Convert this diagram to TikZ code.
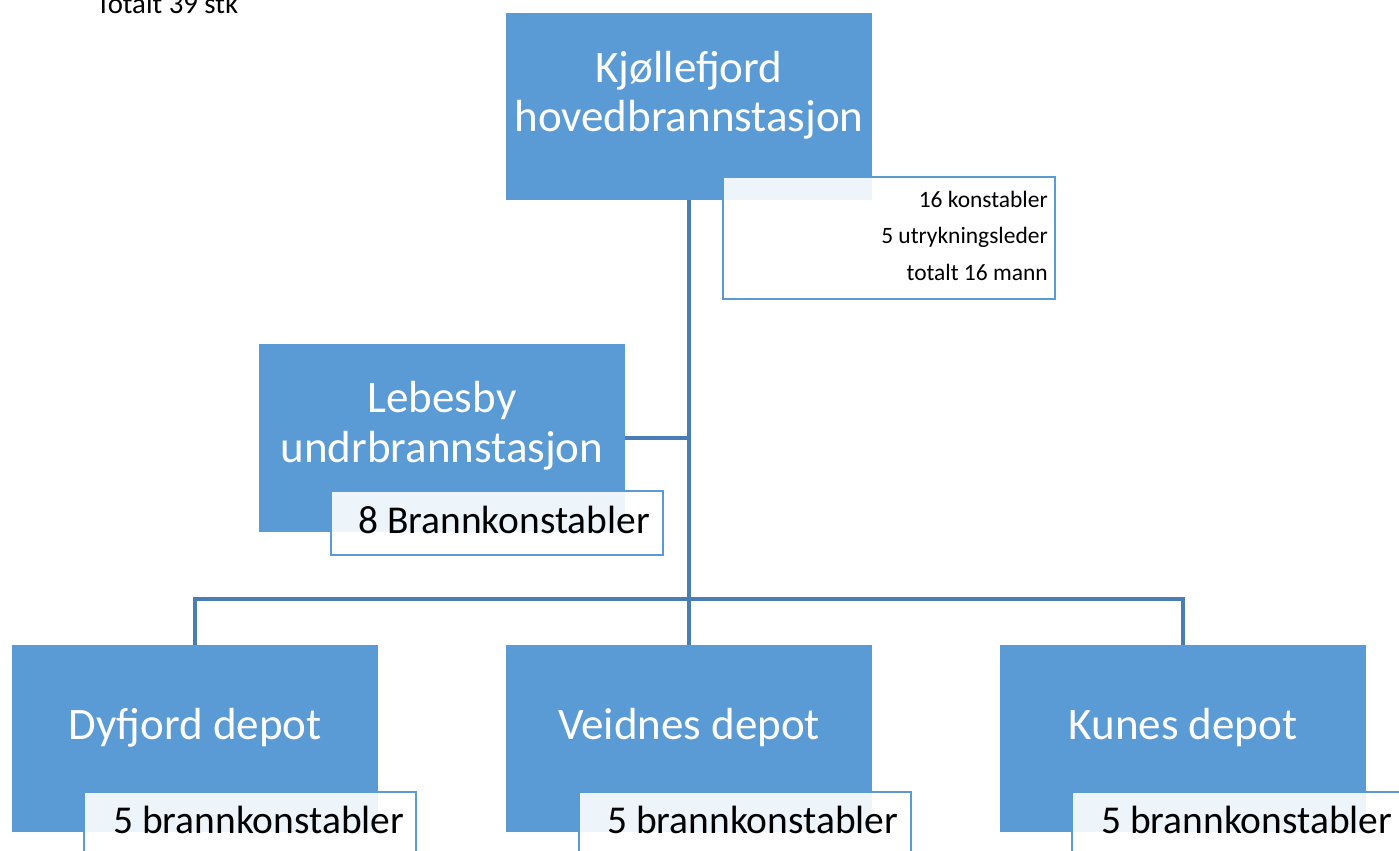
\documentclass[tikz,border=0pt]{standalone}
\usepackage{fontspec}
\setmainfont{Carlito}
\definecolor{boxblue}{HTML}{5B9BD5}
\definecolor{lineblue}{HTML}{4A7DB4}
\begin{document}
\begin{tikzpicture}[x=0.75pt,y=-0.75pt,
  unitbox/.style={fill=boxblue, draw=none, anchor=north west, inner sep=0pt, outer sep=0pt,
    minimum width=274.5pt, minimum height=140.25pt},
  lblbox/.style={draw=boxblue, line width=1.5pt, fill=white, fill opacity=0.9, anchor=north west,
    inner sep=0pt, outer sep=0pt, minimum width=249pt, minimum height=48pt},
  conn/.style={draw=lineblue, line width=2.6pt},
  big/.style={text=white, font=\fontsize{33.75}{40}\selectfont, anchor=base, inner sep=0pt},
  mid/.style={text=black, font=\fontsize{29.6}{35}\selectfont, anchor=base west, inner sep=0pt},
  small/.style={text=black, font=\fontsize{17.6}{21}\selectfont, anchor=base east, inner sep=0pt}]
\useasboundingbox (0,0) rectangle (1399,850);
\clip (0,0) rectangle (1399,850);

% note text
\node[text=black, font=\fontsize{21.6}{26}\selectfont, anchor=base west, inner sep=0pt] (total) at (96,13) {Totalt 39 stk};

% boxes
\node[unitbox] (top) at (506,13) {};
\node[unitbox, minimum height=141pt] (leb) at (259,344) {};
\node[unitbox] (dy) at (12,645) {};
\node[unitbox] (ve) at (506,645) {};
\node[unitbox] (ku) at (1000,645) {};

% connectors
\coordinate (bus) at (689,599);
\draw[conn] (top.south) -- (ve.north);
\draw[conn] (leb.east) -- (leb.east -| top.south);
\draw[conn] (dy.north) |- (bus) -| (ku.north);

% box texts
\node[big] (t1) at (689,82) {Kjøllefjord};
\node[big] (t2) at (689,131) {hovedbrannstasjon};
\node[big] (l1) at (442,412) {Lebesby};
\node[big] (l2) at (442,462) {undrbrannstasjon};
\node[big] (dyt) at (195,739) {Dyfjord depot};
\node[big] (vet) at (689,739) {Veidnes depot};
\node[big] (kut) at (1183,739) {Kunes depot};

% label boxes
\node[lblbox, minimum height=91.5pt] (toplbl) at (723,177) {};
\node[lblbox] (leblbl) at (331,491) {};
\node[lblbox] (dylbl) at (84,792) {};
\node[lblbox] (velbl) at (579,792) {};
\node[lblbox] (kulbl) at (1072,792) {};

% label texts
\node[small] (s1) at (1048,207) {16 konstabler};
\node[small] (s2) at (1048,243) {5 utrykningsleder};
\node[small] (s3) at (1048,280) {totalt 16 mann};
\node[mid] (lebt) at (358,533) {8 Brannkonstabler};
\node[mid] (dyl) at (113,833) {5 brannkonstabler};
\node[mid] (vel) at (607,833) {5 brannkonstabler};
\node[mid] (kul) at (1101,833) {5 brannkonstabler};
\end{tikzpicture}
\end{document}
